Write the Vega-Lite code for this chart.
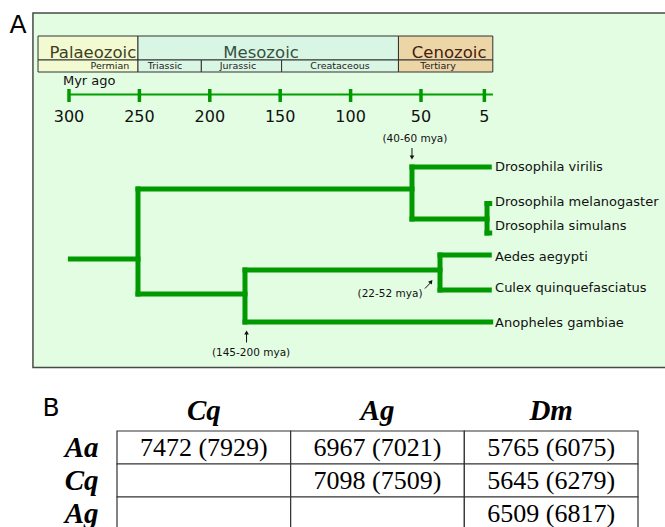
{
  "$schema": "https://vega.github.io/schema/vega-lite/v6.json",
  "width": 665,
  "height": 527,
  "autosize": {"type": "none"},
  "padding": 0,
  "background": "white",
  "config": {"view": {"stroke": null}, "font": "DejaVu Sans"},
  "resolve": {"scale": {"x": "independent", "y": "independent"}},
  "layer": [
    {
      "layer": [
        {
          "data": {"values": [{"panel": "A"}]},
          "mark": {"type": "rect", "fill": "#e3fde3", "stroke": "#4a4a4a", "strokeWidth": 1.5},
          "encoding": {
            "x": {"datum": 325.6, "type": "quantitative", "scale": {"domain": [349, -123.3], "nice": false, "zero": false}, "axis": null},
            "x2": {"datum": -140},
            "y": {"datum": 13, "type": "quantitative", "scale": {"domain": [0, 527], "reverse": true, "nice": false, "zero": false}, "axis": null},
            "y2": {"datum": 367.5}
          }
        },
        {
          "data": {"values": [
            {"era": "Palaeozoic", "start": 322, "end": 251},
            {"era": "Mesozoic", "start": 251, "end": 66},
            {"era": "Cenozoic", "start": 66, "end": -1}
          ]},
          "mark": {"type": "rect", "stroke": "#333333", "strokeWidth": 1},
          "encoding": {
            "x": {"field": "start", "type": "quantitative", "scale": {"domain": [349, -123.3], "nice": false, "zero": false}, "axis": null},
            "x2": {"field": "end"},
            "y": {"datum": 36, "type": "quantitative", "scale": {"domain": [0, 527], "reverse": true, "nice": false, "zero": false}, "axis": null},
            "y2": {"datum": 60},
            "fill": {"field": "era", "type": "nominal", "scale": {"domain": ["Palaeozoic", "Mesozoic", "Cenozoic"], "range": ["#f2fad2", "#d9f5e3", "#ecd5a6"]}, "legend": null}
          }
        },
        {
          "data": {"values": [
            {"period": "Permian", "era": "Palaeozoic", "start": 322, "end": 251, "labelAt": 270.9},
            {"period": "Triassic", "era": "Mesozoic", "start": 251, "end": 206, "labelAt": 231.8},
            {"period": "Jurassic", "era": "Mesozoic", "start": 206, "end": 149, "labelAt": 180},
            {"period": "Creataceous", "era": "Mesozoic", "start": 149, "end": 66, "labelAt": 107.5},
            {"period": "Tertiary", "era": "Cenozoic", "start": 66, "end": -1, "labelAt": 37.9}
          ]},
          "layer": [
            {
              "mark": {"type": "rect", "stroke": "#333333", "strokeWidth": 1},
              "encoding": {
                "x": {"field": "start", "type": "quantitative", "scale": {"domain": [349, -123.3], "nice": false, "zero": false}, "axis": null},
                "x2": {"field": "end"},
                "y": {"datum": 60, "type": "quantitative", "scale": {"domain": [0, 527], "reverse": true, "nice": false, "zero": false}, "axis": null},
                "y2": {"datum": 72},
                "fill": {"field": "era", "type": "nominal", "scale": {"domain": ["Palaeozoic", "Mesozoic", "Cenozoic"], "range": ["#f2fad2", "#d9f5e3", "#ecd5a6"]}, "legend": null}
              }
            },
            {
              "mark": {"type": "text", "fontSize": 9.5, "color": "#222222", "baseline": "middle", "align": "center"},
              "encoding": {
                "x": {"field": "labelAt", "type": "quantitative", "scale": {"domain": [349, -123.3], "nice": false, "zero": false}, "axis": null},
                "y": {"datum": 66, "type": "quantitative", "scale": {"domain": [0, 527], "reverse": true, "nice": false, "zero": false}, "axis": null},
                "text": {"field": "period"}
              }
            }
          ]
        },
        {
          "data": {"values": [
            {"era": "Palaeozoic", "labelAt": 283},
            {"era": "Mesozoic", "labelAt": 163.6},
            {"era": "Cenozoic", "labelAt": 30}
          ]},
          "mark": {"type": "text", "fontSize": 16.5, "baseline": "alphabetic", "align": "center"},
          "encoding": {
            "x": {"field": "labelAt", "type": "quantitative", "scale": {"domain": [349, -123.3], "nice": false, "zero": false}, "axis": null},
            "y": {"datum": 57.5, "type": "quantitative", "scale": {"domain": [0, 527], "reverse": true, "nice": false, "zero": false}, "axis": null},
            "text": {"field": "era"},
            "color": {"field": "era", "type": "nominal", "scale": {"domain": ["Palaeozoic", "Mesozoic", "Cenozoic"], "range": ["#40401f", "#34513f", "#45200c"]}, "legend": null}
          }
        },
        {
          "data": {"values": [{"label": "Myr ago"}]},
          "mark": {"type": "text", "fontSize": 13, "baseline": "alphabetic", "align": "left", "color": "#111111"},
          "encoding": {
            "x": {"datum": 304.3, "type": "quantitative", "scale": {"domain": [349, -123.3], "nice": false, "zero": false}, "axis": null},
            "y": {"datum": 85, "type": "quantitative", "scale": {"domain": [0, 527], "reverse": true, "nice": false, "zero": false}, "axis": null},
            "text": {"field": "label"}
          }
        },
        {
          "data": {"values": [{"start": 300, "end": -1.1}]},
          "mark": {"type": "rule", "color": "#00a000", "strokeWidth": 2},
          "encoding": {
            "x": {"field": "start", "type": "quantitative", "scale": {"domain": [349, -123.3], "nice": false, "zero": false}, "axis": null},
            "x2": {"field": "end"},
            "y": {"datum": 94.5, "type": "quantitative", "scale": {"domain": [0, 527], "reverse": true, "nice": false, "zero": false}, "axis": null}
          }
        },
        {
          "data": {"values": [
            {"myr": 300, "label": "300"},
            {"myr": 250, "label": "250"},
            {"myr": 200, "label": "200"},
            {"myr": 150, "label": "150"},
            {"myr": 100, "label": "100"},
            {"myr": 50, "label": "50"},
            {"myr": 5, "label": "5"}
          ]},
          "layer": [
            {
              "mark": {"type": "tick", "orient": "vertical", "color": "#009a00", "size": 13, "thickness": 3.5, "opacity": 1},
              "encoding": {
                "x": {"field": "myr", "type": "quantitative", "scale": {"domain": [349, -123.3], "nice": false, "zero": false}, "axis": null},
                "y": {"datum": 95.5, "type": "quantitative", "scale": {"domain": [0, 527], "reverse": true, "nice": false, "zero": false}, "axis": null}
              }
            },
            {
              "mark": {"type": "text", "fontSize": 16, "baseline": "alphabetic", "align": "center", "color": "#111111"},
              "encoding": {
                "x": {"field": "myr", "type": "quantitative", "scale": {"domain": [349, -123.3], "nice": false, "zero": false}, "axis": null},
                "y": {"datum": 121.5, "type": "quantitative", "scale": {"domain": [0, 527], "reverse": true, "nice": false, "zero": false}, "axis": null},
                "text": {"field": "label"}
              }
            }
          ]
        },
        {
          "data": {"values": [
            {"m1": 299, "m2": 251, "l1": 259, "l2": 259},
            {"m1": 251, "m2": 251, "l1": 189, "l2": 294},
            {"m1": 251, "m2": 56.4, "l1": 189, "l2": 189},
            {"m1": 251, "m2": 175, "l1": 294, "l2": 294},
            {"m1": 56.4, "m2": 56.4, "l1": 167, "l2": 219},
            {"m1": 56.4, "m2": 1.5, "l1": 167, "l2": 167},
            {"m1": 56.4, "m2": 3.1, "l1": 219, "l2": 219},
            {"m1": 3.1, "m2": 3.1, "l1": 203.5, "l2": 233},
            {"m1": 3.1, "m2": 1.2, "l1": 203.5, "l2": 203.5},
            {"m1": 3.1, "m2": 1.2, "l1": 233, "l2": 233},
            {"m1": 175, "m2": 175, "l1": 270, "l2": 322},
            {"m1": 175, "m2": 36.5, "l1": 270, "l2": 270},
            {"m1": 36.5, "m2": 36.5, "l1": 255, "l2": 290},
            {"m1": 36.5, "m2": 1.5, "l1": 255, "l2": 255},
            {"m1": 36.5, "m2": 1.5, "l1": 290, "l2": 290},
            {"m1": 175, "m2": 0.5, "l1": 322, "l2": 322}
          ]},
          "mark": {"type": "rule", "color": "#009a00", "strokeWidth": 5, "strokeCap": "square"},
          "encoding": {
            "x": {"field": "m1", "type": "quantitative", "scale": {"domain": [349, -123.3], "nice": false, "zero": false}, "axis": null},
            "x2": {"field": "m2"},
            "y": {"field": "l1", "type": "quantitative", "scale": {"domain": [0, 527], "reverse": true, "nice": false, "zero": false}, "axis": null},
            "y2": {"field": "l2"}
          }
        },
        {
          "data": {"values": [
            {"species": "Drosophila virilis", "lane": 166.5},
            {"species": "Drosophila melanogaster", "lane": 202},
            {"species": "Drosophila simulans", "lane": 226},
            {"species": "Aedes aegypti", "lane": 256.5},
            {"species": "Culex quinquefasciatus", "lane": 288},
            {"species": "Anopheles gambiae", "lane": 322.5}
          ]},
          "mark": {"type": "text", "fontSize": 13, "baseline": "middle", "align": "left", "color": "#111111"},
          "encoding": {
            "x": {"datum": -2.6, "type": "quantitative", "scale": {"domain": [349, -123.3], "nice": false, "zero": false}, "axis": null},
            "y": {"field": "lane", "type": "quantitative", "scale": {"domain": [0, 527], "reverse": true, "nice": false, "zero": false}, "axis": null},
            "text": {"field": "species"}
          }
        },
        {
          "data": {"values": [
            {"note": "(40-60 mya)", "myr": 54.3, "lane": 138.5},
            {"note": "(22-52 mya)", "myr": 72, "lane": 293.5},
            {"note": "(145-200 mya)", "myr": 170.7, "lane": 352.5}
          ]},
          "mark": {"type": "text", "fontSize": 10.5, "baseline": "middle", "align": "center", "color": "#111111"},
          "encoding": {
            "x": {"field": "myr", "type": "quantitative", "scale": {"domain": [349, -123.3], "nice": false, "zero": false}, "axis": null},
            "y": {"field": "lane", "type": "quantitative", "scale": {"domain": [0, 527], "reverse": true, "nice": false, "zero": false}, "axis": null},
            "text": {"field": "note"}
          }
        },
        {
          "data": {"values": [
            {"m1": 56.4, "m2": 56.4, "l1": 148, "l2": 156},
            {"m1": 47.2, "m2": 43.4, "l1": 288.5, "l2": 283},
            {"m1": 173.9, "m2": 173.9, "l1": 342.5, "l2": 334}
          ]},
          "mark": {"type": "rule", "color": "#111111", "strokeWidth": 1},
          "encoding": {
            "x": {"field": "m1", "type": "quantitative", "scale": {"domain": [349, -123.3], "nice": false, "zero": false}, "axis": null},
            "x2": {"field": "m2"},
            "y": {"field": "l1", "type": "quantitative", "scale": {"domain": [0, 527], "reverse": true, "nice": false, "zero": false}, "axis": null},
            "y2": {"field": "l2"}
          }
        },
        {
          "data": {"values": [
            {"myr": 56.4, "lane": 157.5, "angle": 180},
            {"myr": 42.8, "lane": 281.5, "angle": 37},
            {"myr": 173.9, "lane": 332.5, "angle": 0}
          ]},
          "mark": {"type": "point", "shape": "triangle-up", "filled": true, "color": "#111111", "size": 22, "opacity": 1},
          "encoding": {
            "x": {"field": "myr", "type": "quantitative", "scale": {"domain": [349, -123.3], "nice": false, "zero": false}, "axis": null},
            "y": {"field": "lane", "type": "quantitative", "scale": {"domain": [0, 527], "reverse": true, "nice": false, "zero": false}, "axis": null},
            "angle": {"field": "angle", "type": "quantitative", "scale": null}
          }
        },
        {
          "data": {"values": [
            {"panel": "A", "myr": 336.2, "lane": 33},
            {"panel": "B", "myr": 312.8, "lane": 415.5}
          ]},
          "mark": {"type": "text", "fontSize": 25, "baseline": "alphabetic", "align": "center", "color": "#000000"},
          "encoding": {
            "x": {"field": "myr", "type": "quantitative", "scale": {"domain": [349, -123.3], "nice": false, "zero": false}, "axis": null},
            "y": {"field": "lane", "type": "quantitative", "scale": {"domain": [0, 527], "reverse": true, "nice": false, "zero": false}, "axis": null},
            "text": {"field": "panel"}
          }
        }
      ]
    },
    {
      "data": {"values": [
        {"row": "Aa", "col": "Cq", "value": "7472 (7929)"},
        {"row": "Aa", "col": "Ag", "value": "6967 (7021)"},
        {"row": "Aa", "col": "Dm", "value": "5765 (6075)"},
        {"row": "Cq", "col": "Cq", "value": ""},
        {"row": "Cq", "col": "Ag", "value": "7098 (7509)"},
        {"row": "Cq", "col": "Dm", "value": "5645 (6279)"},
        {"row": "Ag", "col": "Cq", "value": ""},
        {"row": "Ag", "col": "Ag", "value": ""},
        {"row": "Ag", "col": "Dm", "value": "6509 (6817)"}
      ]},
      "encoding": {
        "x": {
          "field": "col", "type": "nominal", "sort": null,
          "scale": {"type": "band", "domain": ["Cq", "Ag", "Dm"], "range": [117, 638], "paddingInner": 0, "paddingOuter": 0},
          "axis": {"orient": "top", "offset": -431, "domain": false, "ticks": false, "tickSize": 0, "labelPadding": 12, "labelBaseline": "alphabetic", "labelAngle": 0, "labelFont": "Liberation Serif", "labelFontSize": 29, "labelFontStyle": "italic", "labelFontWeight": "bold", "labelColor": "#000000", "title": null, "grid": false}
        },
        "y": {
          "field": "row", "type": "nominal", "sort": null,
          "scale": {"type": "band", "domain": ["Aa", "Cq", "Ag"], "range": [431, 530], "paddingInner": 0, "paddingOuter": 0},
          "axis": {"orient": "left", "offset": -117, "domain": false, "ticks": false, "tickSize": 0, "labelPadding": 19, "labelAlign": "right", "labelBaseline": "middle", "labelFont": "Liberation Serif", "labelFontSize": 29, "labelFontStyle": "italic", "labelFontWeight": "bold", "labelColor": "#000000", "title": null, "grid": false}
        }
      },
      "layer": [
        {"mark": {"type": "rect", "fill": "#ffffff", "stroke": "#333333", "strokeWidth": 1.2}},
        {
          "mark": {"type": "text", "font": "Liberation Serif", "fontSize": 26, "baseline": "middle", "align": "center", "color": "#000000"},
          "encoding": {"text": {"field": "value"}}
        }
      ]
    }
  ]
}
